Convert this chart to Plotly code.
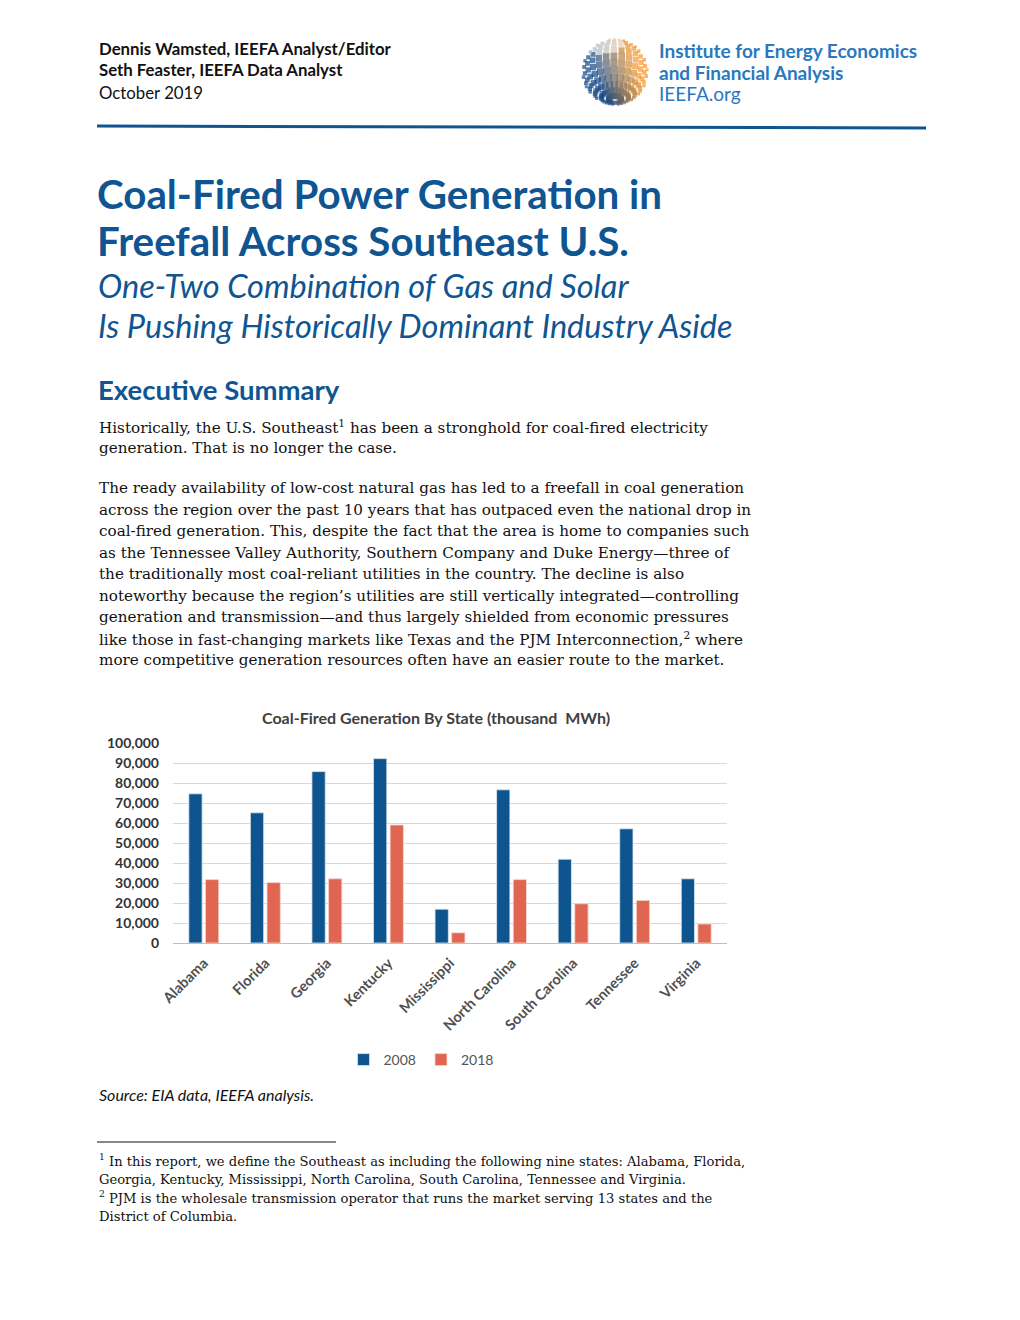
import numpy as np
import plotly.graph_objects as go

W, H = 1020, 1320

states = ["Alabama", "Florida", "Georgia", "Kentucky", "Mississippi",
          "North Carolina", "South Carolina", "Tennessee", "Virginia"]
gen_2008 = [74600, 65100, 85700, 92200, 16900, 76600, 41900, 57100, 32100]
gen_2018 = [31700, 30200, 32100, 59000, 5100, 31700, 19600, 21300, 9500]
y_ticks = [0, 10000, 20000, 30000, 40000, 50000, 60000, 70000, 80000, 90000, 100000]
y_tick_labels = ["0", "10,000", "20,000", "30,000", "40,000", "50,000",
                 "60,000", "70,000", "80,000", "90,000", "100,000"]

BLUE = "#0e5590"
RED = "#e06652"
TITLE_BLUE = "#0f5592"
LOGO_BLUE = "#2a78bd"
SANS = "Lato, 'Open Sans', sans-serif"
SERIF = "'DejaVu Serif', 'Liberation Serif', serif"


def px(x):
    return x / W


def py(y):
    return 1 - y / H


fig = go.Figure()
fig.add_trace(go.Bar(name="2008", x=states, y=gen_2008, marker=dict(color=BLUE, line=dict(color="#dfe8f0", width=0.8))))
fig.add_trace(go.Bar(name="2018", x=states, y=gen_2018, marker=dict(color=RED, line=dict(color="#f4d8d2", width=0.8))))

# ---- decorative logo globe ----
gx, gy, gc, gs = [], [], [], []
tilt = np.radians(30)
c_blue = np.array([20, 72, 135])
c_orange = np.array([243, 152, 45])
for lat in np.radians(np.arange(-78, 80, 13)):
    for lon in np.radians(np.arange(-170, 180, 14)):
        x = np.cos(lat) * np.sin(lon)
        y0 = np.sin(lat)
        z0 = np.cos(lat) * np.cos(lon)
        y = y0 * np.cos(tilt) + z0 * np.sin(tilt)
        z = -y0 * np.sin(tilt) + z0 * np.cos(tilt)
        if z <= 0.08:
            continue
        t = min(1, max(0, 0.45 + 0.8 * x + 0.25 * y))
        col = c_blue + (c_orange - c_blue) * t
        if y > 0.6 and x < 0.2:
            col = col * 0.4 + np.array([255, 255, 255]) * 0.6
        gx.append(x)
        gy.append(y)
        gc.append("rgb(%d,%d,%d)" % tuple(col.astype(int)))
        gs.append(2.5 + 5 * z)
fig.add_trace(go.Scatter(x=gx, y=gy, mode="markers", xaxis="x2", yaxis="y2",
                         marker=dict(symbol="square", color=gc, size=gs, line=dict(width=0)),
                         showlegend=False, hoverinfo="skip"))

fig.update_layout(
    template="none",
    width=W, height=H, autosize=False,
    margin=dict(l=0, r=0, t=0, b=0, pad=0, autoexpand=False),
    paper_bgcolor="white", plot_bgcolor="white",
    barmode="group", bargap=0.46, bargroupgap=0.2,
    showlegend=True,
    legend=dict(orientation="h", x=px(421), y=py(1060), xanchor="center", yanchor="middle",
                font=dict(family=SANS, size=14, color="#555555"), itemwidth=30,
                traceorder="normal", bgcolor="rgba(0,0,0,0)"),
    xaxis=dict(domain=[px(173), px(727)], tickangle=-45, showgrid=False, automargin=False,
               showline=True, linecolor="#bfbfbf", linewidth=1, ticks="", ticklabelstandoff=5,
               tickfont=dict(family=SANS, size=14.5, color="#505050", weight="bold")),
    yaxis=dict(domain=[py(943), py(743)], range=[0, 100000], tickvals=y_ticks, automargin=False,
               ticktext=y_tick_labels, showgrid=True, gridcolor="#d9d9d9", gridwidth=1,
               zeroline=False, showline=False, ticks="", ticklen=0, ticklabelstandoff=13,
               tickfont=dict(family=SANS, size=14, color="#333333", weight="bold")),
    xaxis2=dict(domain=[px(580), px(650)], range=[-1.08, 1.08], visible=False, fixedrange=True, automargin=False),
    yaxis2=dict(domain=[py(107), py(37)], range=[-1.08, 1.08], visible=False, fixedrange=True, automargin=False),
)

ann = []


def text(x, y, s, size, color="#000000", family=SANS, bold=False, italic=False, xanchor="left"):
    if bold:
        s = "<b>" + s + "</b>"
    if italic:
        s = "<i>" + s + "</i>"
    ann.append(dict(x=px(x), y=py(y), xref="paper", yref="paper", text=s, showarrow=False,
                    xanchor=xanchor, yanchor="middle", align="left",
                    font=dict(size=size, color=color, family=family)))


# header
text(97, 48, "Dennis Wamsted, IEEFA Analyst/Editor", 16.8, "#111111", bold=True)
text(97, 70, "Seth Feaster, IEEFA Data Analyst", 16.8, "#111111", bold=True)
text(97, 93, "October 2019", 16.8, "#111111")
text(657, 51, "Institute for Energy Economics", 19, LOGO_BLUE, bold=True)
text(657, 72, "and Financial Analysis", 19, LOGO_BLUE, bold=True)
text(657, 94, "IEEFA.org", 19, LOGO_BLUE)

# title
text(95, 193, "Coal-Fired Power Generation in", 40.3, TITLE_BLUE, bold=True)
text(95, 240, "Freefall Across Southeast U.S.", 40.3, TITLE_BLUE, bold=True)
text(96, 285, "One-Two Combination of Gas and Solar", 32.5, TITLE_BLUE, italic=True)
text(96, 325, "Is Pushing Historically Dominant Industry Aside", 32.5, TITLE_BLUE, italic=True)
text(96, 389, "Executive Summary", 27.5, TITLE_BLUE, bold=True)

body = [
    (427, "Historically, the U.S. Southeast<sup>1</sup> has been a stronghold for coal-fired electricity"),
    (448, "generation. That is no longer the case."),
    (488, "The ready availability of low-cost natural gas has led to a freefall in coal generation"),
    (510, "across the region over the past 10 years that has outpaced even the national drop in"),
    (531, "coal-fired generation. This, despite the fact that the area is home to companies such"),
    (553, "as the Tennessee Valley Authority, Southern Company and Duke Energy\u2014three of"),
    (574, "the traditionally most coal-reliant utilities in the country. The decline is also"),
    (596, "noteworthy because the region\u2019s utilities are still vertically integrated\u2014controlling"),
    (617, "generation and transmission\u2014and thus largely shielded from economic pressures"),
    (639, "like those in fast-changing markets like Texas and the PJM Interconnection,<sup>2</sup> where"),
    (660, "more competitive generation resources often have an easier route to the market."),
]
for yy, s in body:
    text(97, yy, s, 15.2, "#111111", family=SERIF)

text(436, 717, "Coal-Fired Generation By State (thousand  MWh)", 16, "#404040", bold=True, xanchor="center")
text(97, 1094, "Source: EIA data, IEEFA analysis.", 16, "#111111", italic=True)

foot = [
    (1160, "<sup>1</sup> In this report, we define the Southeast as including the following nine states: Alabama, Florida,"),
    (1179, "Georgia, Kentucky, Mississippi, North Carolina, South Carolina, Tennessee and Virginia."),
    (1197, "<sup>2</sup> PJM is the wholesale transmission operator that runs the market serving 13 states and the"),
    (1216, "District of Columbia."),
]
for yy, s in foot:
    text(97, yy, s, 13.1, "#111111", family=SERIF)

fig.update_layout(annotations=ann)

fig.update_layout(shapes=[
    dict(type="line", xref="paper", yref="paper", x0=px(97), x1=px(926), y0=py(126), y1=py(128),
         line=dict(color=TITLE_BLUE, width=3)),
    dict(type="line", xref="paper", yref="paper", x0=px(97), x1=px(336), y0=py(1142), y1=py(1142),
         line=dict(color="#111111", width=1)),
])

fig.write_html("out.html", config={"displayModeBar": False},
               post_script="document.body.style.margin='0';document.body.style.padding='0';document.documentElement.style.overflow='hidden';")
